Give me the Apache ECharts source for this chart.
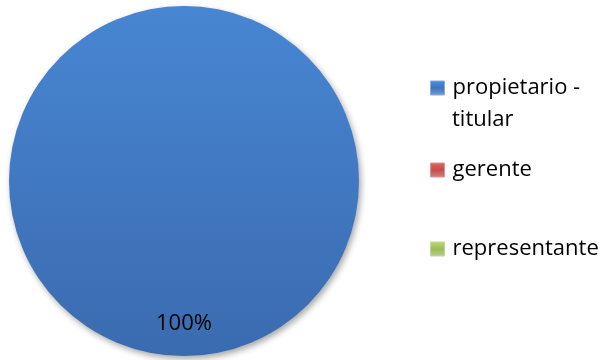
<!DOCTYPE html>
<html>
<head>
<meta charset="utf-8">
<script src="https://cdn.jsdelivr.net/npm/echarts@6/dist/echarts.min.js"></script>
<style>
  html, body { margin: 0; padding: 0; background: #fff; }
  #chart { width: 613px; height: 360px; }
</style>
</head>
<body>
<div id="chart"></div>
<script>
// Cargo del encuestado
const categories = ['propietario - titular', 'gerente', 'representante'];
const values = [100, 0, 0];
const colors = ['#3f74bc', '#c0504d', '#9bbb59'];
const legendTops = [77, 159, 238];

const FONT = 'Open Sans';
const FONT_SIZE = 22;

const chart = echarts.init(document.getElementById('chart'), null, { renderer: 'canvas' });

const pieData = categories.map((name, i) => ({
  name: name,
  value: values[i],
  label: { show: values[i] > 0 },
  itemStyle: {
    color: new echarts.graphic.LinearGradient(0, 0, 0, 1, [
      { offset: 0, color: i === 0 ? '#4886d2' : colors[i] },
      { offset: 1, color: i === 0 ? '#3a6bb0' : colors[i] }
    ])
  }
}));

// bevelled legend swatches: lighter top, darker bottom edge
const legendIcon = (c) => new echarts.graphic.LinearGradient(0, 0, 0, 1, [
  { offset: 0, color: echarts.color.lift(c, -0.2) },
  { offset: 0.5, color: c },
  { offset: 1, color: echarts.color.lift(c, 0.3) }
]);

const legends = categories.map((name, i) => ({
  orient: 'vertical',
  left: 430,
  top: legendTops[i],
  padding: 0,
  icon: 'rect',
  itemWidth: 14,
  itemHeight: 14,
  selectedMode: false,
  data: [{ name: name, itemStyle: { color: legendIcon(colors[i]), borderColor: echarts.color.lift(colors[i], 0.4), borderWidth: 1 } }],
  formatter: (n) => (n === categories[0] ? 'propietario -' : n),
  textStyle: { fontFamily: FONT, fontSize: FONT_SIZE, color: '#000', padding: [0, 0, 0, 3] }
}));

chart.setOption({
  animation: false,
  backgroundColor: '#fff',
  color: colors,
  legend: legends,
  graphic: [{
    type: 'text',
    left: 452,
    top: 109,
    style: { text: 'titular', font: FONT_SIZE + 'px "' + FONT + '"', fill: '#000' }
  }],
  series: [{
    type: 'pie',
    center: [184, 181],
    radius: 175,
    startAngle: 90,
    clockwise: true,
    avoidLabelOverlap: false,
    data: pieData,
    itemStyle: {
      borderWidth: 0,
      shadowColor: 'rgba(0,0,0,0.35)',
      shadowBlur: 6,
      shadowOffsetX: 2,
      shadowOffsetY: 3
    },
    label: {
      position: 'inside',
      formatter: '{d}%',
      fontFamily: FONT,
      fontSize: FONT_SIZE,
      color: '#000',
      offset: [0, 52]
    },
    labelLine: { show: false },
    emphasis: { disabled: true }
  }]
});
</script>
</body>
</html>
